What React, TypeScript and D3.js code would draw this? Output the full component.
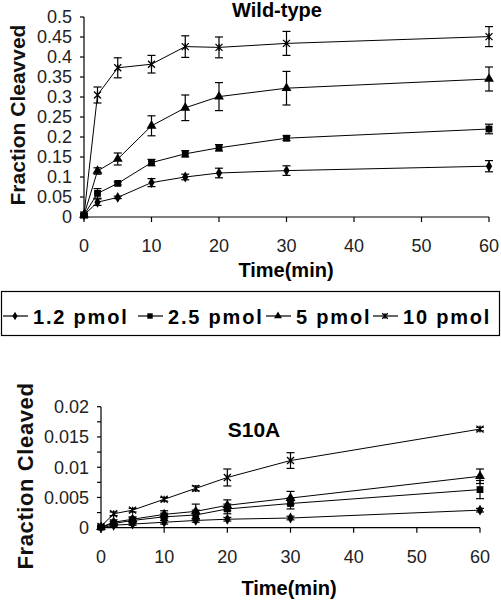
import React from "react";
import * as d3 from "d3";

const times = [0, 2, 5, 10, 15, 20, 30, 60];
const seriesNames = ["1.2 pmol", "2.5 pmol", "5 pmol", "10 pmol"];
const markerKinds = ["diamond", "square", "triangle", "x"];

const wt12 = [0.005, 0.037, 0.049, 0.086, 0.1, 0.11, 0.116, 0.127];
const wt12Err = [0.003, 0.008, 0.003, 0.01, 0.007, 0.012, 0.012, 0.014];
const wt25 = [0.005, 0.059, 0.084, 0.136, 0.158, 0.173, 0.197, 0.22];
const wt25Err = [0.003, 0.012, 0.004, 0.008, 0.008, 0.008, 0.006, 0.012];
const wt5 = [0.005, 0.115, 0.145, 0.228, 0.273, 0.301, 0.322, 0.345];
const wt5Err = [0.003, 0.008, 0.015, 0.025, 0.032, 0.035, 0.042, 0.03];
const wt10 = [0.005, 0.305, 0.373, 0.382, 0.426, 0.424, 0.434, 0.451];
const wt10Err = [0.003, 0.02, 0.025, 0.022, 0.027, 0.026, 0.03, 0.025];

const mu12 = [0, 0.0004, 0.0006, 0.0009, 0.0012, 0.0014, 0.0016, 0.0029];
const mu12Err = [0.0002, 0.0002, 0.0002, 0.0003, 0.0003, 0.0003, 0.0003, 0.0003];
const mu25 = [0.0001, 0.0007, 0.0012, 0.0018, 0.0021, 0.0031, 0.004, 0.0063];
const mu25Err = [0.0002, 0.0003, 0.0004, 0.0006, 0.0008, 0.0008, 0.0009, 0.0015];
const mu5 = [0.0001, 0.0009, 0.0014, 0.0022, 0.0027, 0.0037, 0.0049, 0.0085];
const mu5Err = [0.0002, 0.0004, 0.0004, 0.0006, 0.0012, 0.0009, 0.0011, 0.0012];
const mu10 = [0.0002, 0.0023, 0.0029, 0.0047, 0.0065, 0.0083, 0.0111, 0.0163];
const mu10Err = [0.0002, 0.0003, 0.0003, 0.0003, 0.0004, 0.0014, 0.0013, 0.0003];

const xTicks = [0, 10, 20, 30, 40, 50, 60];
const wtYTicks = [0, 0.05, 0.1, 0.15, 0.2, 0.25, 0.3, 0.35, 0.4, 0.45, 0.5];
const muYTicks = [0, 0.005, 0.01, 0.015, 0.02];
const muYMinor = [0.0025, 0.0075, 0.0125, 0.0175];

const FONT = "'Liberation Sans', Arial, sans-serif";

function Marker({ kind, x, y, s = 1 }: { kind: string; x: number; y: number; s?: number }) {
  if (kind === "x") {
    const r = 3.5 * s;
    return (
      <path
        d={`M${x - r},${y - r}L${x + r},${y + r}M${x - r},${y + r}L${x + r},${y - r}M${x},${y - r}L${x},${y + r}`}
        stroke="#000"
        strokeWidth={1.3}
        fill="none"
      />
    );
  }
  const type = kind === "diamond" ? d3.symbolDiamond : kind === "square" ? d3.symbolSquare : d3.symbolTriangle;
  const size = kind === "diamond" ? 34 : kind === "square" ? 46 : 42;
  const p = d3.symbol().type(type).size(size * s * s)();
  return <path d={p || ""} transform={`translate(${x},${y})`} fill="#000" />;
}

type Panel = {
  x0: number; x1: number; y0: number; y1: number; yMax: number;
  series: number[][]; errs: number[][];
  yTicks: number[]; yMinor: number[]; fmt: (v: number) => string;
};

function PanelView({ p }: { p: Panel }) {
  const x = d3.scaleLinear().domain([0, 60]).range([p.x0, p.x1]);
  const y = d3.scaleLinear().domain([0, p.yMax]).range([p.y0, p.y1]);
  const line = d3.line<number>().x((_, i) => x(times[i])).y((v) => y(v));
  return (
    <g>
      {p.series.map((s, si) => (
        <path key={"l" + si} d={line(s) || ""} fill="none" stroke="#000" strokeWidth={1} />
      ))}
      {p.series.map((s, si) =>
        s.map((v, i) => {
          const e = p.errs[si][i];
          const cx = x(times[i]);
          const t = y(v + e), b = y(Math.max(0, v - e));
          return (
            <g key={`e${si}-${i}`} stroke="#000" strokeWidth={1.2}>
              <line x1={cx} x2={cx} y1={t} y2={b} />
              <line x1={cx - 4} x2={cx + 4} y1={t} y2={t} />
              <line x1={cx - 4} x2={cx + 4} y1={b} y2={b} />
            </g>
          );
        })
      )}
      {p.series.map((s, si) =>
        s.map((v, i) => <Marker key={`m${si}-${i}`} kind={markerKinds[si]} x={x(times[i])} y={y(v)} />)
      )}
      <line x1={p.x0} x2={p.x0} y1={p.y0} y2={p.y1} stroke="#000" strokeWidth={1.2} />
      <line x1={p.x0} x2={p.x1} y1={p.y0} y2={p.y0} stroke="#000" strokeWidth={1.2} />
      {p.yTicks.concat(p.yMinor).map((t) => (
        <line key={"yt" + t} x1={p.x0 - 4} x2={p.x0} y1={y(t)} y2={y(t)} stroke="#000" strokeWidth={1.2} />
      ))}
      {p.yTicks.map((t) => (
        <text key={"yl" + t} x={p.x0 - 12} y={y(t)} dy="0.36em" textAnchor="end" fontSize={18} fontFamily={FONT} fill="#222">
          {p.fmt(t)}
        </text>
      ))}
      {xTicks.map((t) => (
        <line key={"xt" + t} x1={x(t)} x2={x(t)} y1={p.y0} y2={p.y0 + 5} stroke="#000" strokeWidth={1.2} />
      ))}
      {xTicks.map((t) => (
        <text key={"xl" + t} x={x(t)} y={p.y0 + 35} textAnchor="middle" fontSize={18} fontFamily={FONT} fill="#222">
          {t}
        </text>
      ))}
    </g>
  );
}

export default function App() {
  const top: Panel = {
    x0: 84, x1: 489, y0: 217, y1: 17, yMax: 0.5,
    series: [wt12, wt25, wt5, wt10], errs: [wt12Err, wt25Err, wt5Err, wt10Err],
    yTicks: wtYTicks, yMinor: [], fmt: (v) => String(+v.toFixed(2)),
  };
  const bot: Panel = {
    x0: 101, x1: 480, y0: 527.7, y1: 406.7, yMax: 0.02,
    series: [mu12, mu25, mu5, mu10], errs: [mu12Err, mu25Err, mu5Err, mu10Err],
    yTicks: muYTicks, yMinor: muYMinor, fmt: (v) => String(+v.toFixed(3)),
  };
  const legendX = [2, 137, 265, 372];
  return (
    <svg width={501} height={603} style={{ position: "absolute", left: 0, top: 0, background: "#fff" }}>
      <rect width={501} height={603} fill="#fff" />
      <PanelView p={top} />
      <PanelView p={bot} />
      <text x={277} y={17} textAnchor="middle" fontSize={20} fontWeight={900} fontFamily={FONT}>Wild-type</text>
      <text x={254} y={437} textAnchor="middle" fontSize={21} fontWeight={900} fontFamily={FONT}>S10A</text>
      <text transform="translate(25,115) rotate(-90)" textAnchor="middle" fontSize={21} fontWeight="bold" fontFamily={FONT} fill="#111">Fraction Cleavved</text>
      <text transform="translate(33,476) rotate(-90)" textAnchor="middle" fontSize={22} fontWeight="bold" fontFamily={FONT} fill="#111" letterSpacing={0.6}>Fraction Cleaved</text>
      <text x={286} y={277} textAnchor="middle" fontSize={20} fontWeight="bold" fontFamily={FONT}>Time(min)</text>
      <text x={289} y={595} textAnchor="middle" fontSize={20} fontWeight="bold" fontFamily={FONT}>Time(min)</text>
      <rect x={1.5} y={291.5} width={498} height={44} fill="none" stroke="#000" strokeWidth={1.2} />
      {seriesNames.map((n, i) => (
        <g key={n}>
          <line x1={legendX[i] + 1} x2={legendX[i] + 26} y1={316} y2={316} stroke="#000" strokeWidth={1.2} />
          <Marker kind={markerKinds[i]} x={legendX[i] + 13} y={316} s={0.8} />
          <text x={legendX[i] + 31} y={324} fontSize={20} fontWeight="bold" fontFamily={FONT} letterSpacing={1.8}>{n}</text>
        </g>
      ))}
    </svg>
  );
}
